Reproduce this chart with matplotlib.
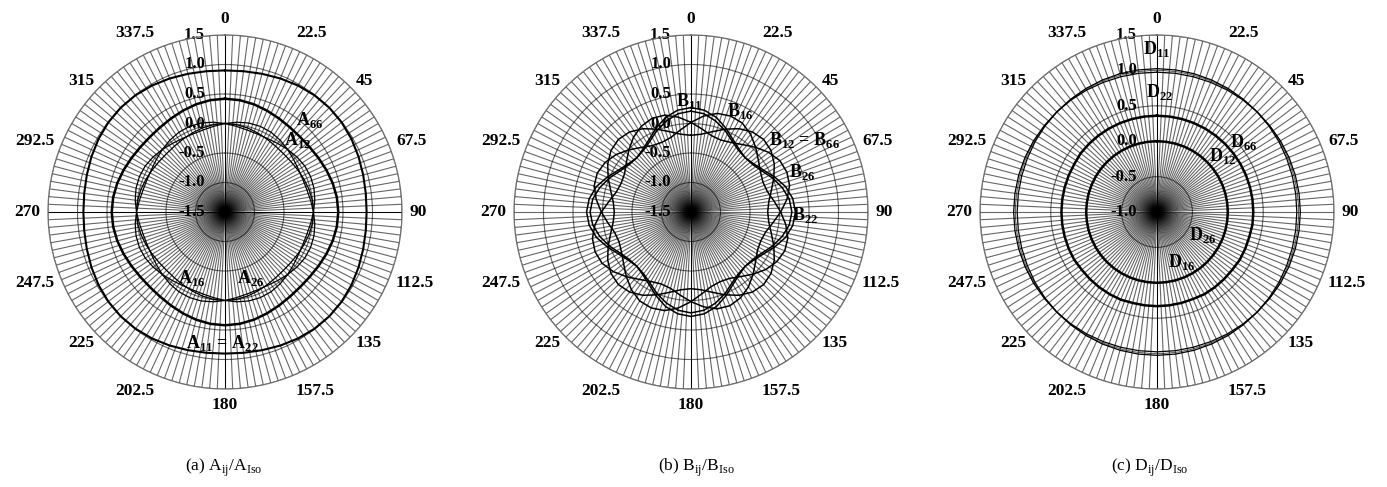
import matplotlib.pyplot as plt
import numpy as np

plt.rcParams['font.family'] = 'Liberation Serif'
plt.rcParams['mathtext.fontset'] = 'custom'
plt.rcParams['mathtext.rm'] = 'Liberation Serif'
plt.rcParams['mathtext.bf'] = 'Liberation Serif:bold'

# angle labels round each panel
label_angles = np.arange(0, 360, 22.5)
angle_labels = ['0', '22.5', '45', '67.5', '90', '112.5', '135', '157.5',
                '180', '202.5', '225', '247.5', '270', '292.5', '315', '337.5']

# all curves read every 7.5 deg
theta = np.arange(0, 360, 7.5)

# (a) A_ij / A_iso
A11_A22 = [0.900, 0.907, 0.925, 0.950, 0.975, 0.993, 1.000, 0.993, 0.975, 0.950, 0.925, 0.907,
           0.900, 0.907, 0.925, 0.950, 0.975, 0.993, 1.000, 0.993, 0.975, 0.950, 0.925, 0.907,
           0.900, 0.907, 0.925, 0.950, 0.975, 0.993, 1.000, 0.993, 0.975, 0.950, 0.925, 0.907,
           0.900, 0.907, 0.925, 0.950, 0.975, 0.993, 1.000, 0.993, 0.975, 0.950, 0.925, 0.907]
A66 = [0.420, 0.412, 0.390, 0.360, 0.330, 0.308, 0.300, 0.308, 0.330, 0.360, 0.390, 0.412,
       0.420, 0.412, 0.390, 0.360, 0.330, 0.308, 0.300, 0.308, 0.330, 0.360, 0.390, 0.412,
       0.420, 0.412, 0.390, 0.360, 0.330, 0.308, 0.300, 0.308, 0.330, 0.360, 0.390, 0.412,
       0.420, 0.412, 0.390, 0.360, 0.330, 0.308, 0.300, 0.308, 0.330, 0.360, 0.390, 0.412]
A12 = [0.000, -0.007, -0.025, -0.050, -0.075, -0.093, -0.100, -0.093, -0.075, -0.050, -0.025, -0.007,
       0.000, -0.007, -0.025, -0.050, -0.075, -0.093, -0.100, -0.093, -0.075, -0.050, -0.025, -0.007,
       0.000, -0.007, -0.025, -0.050, -0.075, -0.093, -0.100, -0.093, -0.075, -0.050, -0.025, -0.007,
       0.000, -0.007, -0.025, -0.050, -0.075, -0.093, -0.100, -0.093, -0.075, -0.050, -0.025, -0.007]
A16 = [0.000, 0.035, 0.061, 0.070, 0.061, 0.035, 0.000, -0.035, -0.061, -0.070, -0.061, -0.035,
       0.000, 0.035, 0.061, 0.070, 0.061, 0.035, 0.000, -0.035, -0.061, -0.070, -0.061, -0.035,
       0.000, 0.035, 0.061, 0.070, 0.061, 0.035, 0.000, -0.035, -0.061, -0.070, -0.061, -0.035,
       0.000, 0.035, 0.061, 0.070, 0.061, 0.035, 0.000, -0.035, -0.061, -0.070, -0.061, -0.035]
A26 = [0.000, -0.035, -0.061, -0.070, -0.061, -0.035, 0.000, 0.035, 0.061, 0.070, 0.061, 0.035,
       0.000, -0.035, -0.061, -0.070, -0.061, -0.035, 0.000, 0.035, 0.061, 0.070, 0.061, 0.035,
       0.000, -0.035, -0.061, -0.070, -0.061, -0.035, 0.000, 0.035, 0.061, 0.070, 0.061, 0.035,
       0.000, -0.035, -0.061, -0.070, -0.061, -0.035, 0.000, 0.035, 0.061, 0.070, 0.061, 0.035]

# (b) B_ij / B_iso
B11 = [0.27, 0.24, 0.16, 0.04, -0.08, -0.16, -0.20, -0.18, -0.11, 0.00, 0.10, 0.18,
       0.21, 0.18, 0.10, 0.00, -0.11, -0.18, -0.20, -0.16, -0.08, 0.04, 0.16, 0.24,
       0.27, 0.24, 0.16, 0.04, -0.08, -0.16, -0.20, -0.18, -0.11, 0.00, 0.10, 0.18,
       0.21, 0.18, 0.10, 0.00, -0.11, -0.18, -0.20, -0.16, -0.08, 0.04, 0.16, 0.24]
B22 = [0.21, 0.18, 0.10, 0.00, -0.11, -0.18, -0.20, -0.16, -0.08, 0.04, 0.16, 0.24,
       0.27, 0.24, 0.16, 0.04, -0.08, -0.16, -0.20, -0.18, -0.11, 0.00, 0.10, 0.18,
       0.21, 0.18, 0.10, 0.00, -0.11, -0.18, -0.20, -0.16, -0.08, 0.04, 0.16, 0.24,
       0.27, 0.24, 0.16, 0.04, -0.08, -0.16, -0.20, -0.18, -0.11, 0.00, 0.10, 0.18]
B12_B66 = [-0.20, -0.17, -0.09, 0.02, 0.13, 0.21, 0.24, 0.21, 0.13, 0.02, -0.09, -0.17,
           -0.20, -0.17, -0.09, 0.02, 0.13, 0.21, 0.24, 0.21, 0.13, 0.02, -0.09, -0.17,
           -0.20, -0.17, -0.09, 0.02, 0.13, 0.21, 0.24, 0.21, 0.13, 0.02, -0.09, -0.17,
           -0.20, -0.17, -0.09, 0.02, 0.13, 0.21, 0.24, 0.21, 0.13, 0.02, -0.09, -0.17]
B16 = [0.02, 0.14, 0.23, 0.26, 0.24, 0.16, 0.05, -0.06, -0.14, -0.18, -0.16, -0.08,
       0.02, 0.12, 0.20, 0.22, 0.18, 0.10, -0.01, -0.12, -0.20, -0.22, -0.19, -0.10,
       0.02, 0.14, 0.23, 0.26, 0.24, 0.16, 0.05, -0.06, -0.14, -0.18, -0.16, -0.08,
       0.02, 0.12, 0.20, 0.22, 0.18, 0.10, -0.01, -0.12, -0.20, -0.22, -0.19, -0.10]
B26 = [0.02, -0.08, -0.16, -0.18, -0.14, -0.06, 0.05, 0.16, 0.24, 0.26, 0.23, 0.14,
       0.02, -0.10, -0.19, -0.22, -0.20, -0.12, -0.01, 0.10, 0.18, 0.22, 0.20, 0.12,
       0.02, -0.08, -0.16, -0.18, -0.14, -0.06, 0.05, 0.16, 0.24, 0.26, 0.23, 0.14,
       0.02, -0.10, -0.19, -0.22, -0.20, -0.12, -0.01, 0.10, 0.18, 0.22, 0.20, 0.12]

# (c) D_ij / D_iso
D11 = [1.025, 1.024, 1.022, 1.018, 1.013, 1.006, 1.000, 0.994, 0.988, 0.982, 0.978, 0.976,
       0.975, 0.976, 0.978, 0.982, 0.988, 0.994, 1.000, 1.006, 1.013, 1.018, 1.022, 1.024,
       1.025, 1.024, 1.022, 1.018, 1.013, 1.006, 1.000, 0.994, 0.988, 0.982, 0.978, 0.976,
       0.975, 0.976, 0.978, 0.982, 0.988, 0.994, 1.000, 1.006, 1.013, 1.018, 1.022, 1.024]
D22 = [0.975, 0.976, 0.978, 0.982, 0.988, 0.994, 1.000, 1.006, 1.013, 1.018, 1.022, 1.024,
       1.025, 1.024, 1.022, 1.018, 1.013, 1.006, 1.000, 0.994, 0.988, 0.982, 0.978, 0.976,
       0.975, 0.976, 0.978, 0.982, 0.988, 0.994, 1.000, 1.006, 1.013, 1.018, 1.022, 1.024,
       1.025, 1.024, 1.022, 1.018, 1.013, 1.006, 1.000, 0.994, 0.988, 0.982, 0.978, 0.976]
D66 = [0.36, 0.36, 0.36, 0.36, 0.36, 0.36, 0.36, 0.36, 0.36, 0.36, 0.36, 0.36,
       0.36, 0.36, 0.35, 0.35, 0.35, 0.34, 0.34, 0.34, 0.34, 0.33, 0.33, 0.33,
       0.33, 0.33, 0.33, 0.34, 0.34, 0.34, 0.34, 0.34, 0.35, 0.35, 0.35, 0.35,
       0.35, 0.35, 0.35, 0.35, 0.35, 0.36, 0.36, 0.36, 0.36, 0.36, 0.36, 0.36]
D12 = [0.00, 0.00, 0.00, 0.00, 0.00, 0.00, 0.00, 0.00, 0.00, 0.00, 0.00, 0.00,
       0.00, 0.00, 0.00, 0.00, 0.00, 0.00, 0.00, 0.00, 0.00, 0.00, 0.00, 0.00,
       0.00, 0.00, 0.00, 0.00, 0.00, 0.00, 0.00, 0.00, 0.00, 0.00, 0.00, 0.00,
       0.00, 0.00, 0.00, 0.00, 0.00, 0.00, 0.00, 0.00, 0.00, 0.00, 0.00, 0.00]
D16 = [-1.00, -1.00, -1.00, -1.00, -1.00, -1.00, -1.00, -1.00, -1.00, -1.00, -1.00, -1.00,
       -1.00, -1.00, -1.00, -1.00, -1.00, -1.00, -1.00, -1.00, -1.00, -1.00, -1.00, -1.00,
       -1.00, -1.00, -1.00, -1.00, -1.00, -1.00, -1.00, -1.00, -1.00, -1.00, -1.00, -1.00,
       -1.00, -1.00, -1.00, -1.00, -1.00, -1.00, -1.00, -1.00, -1.00, -1.00, -1.00, -1.00]
D26 = D16

fig = plt.figure(figsize=(13.87, 4.87), dpi=100)


def make_polar(cx, rmin, rings):
    ax = fig.add_axes([(cx - 177) / 1387, 98 / 487, 354 / 1387, 354 / 487],
                      projection='polar')
    ax.set_theta_zero_location('N')
    ax.set_theta_direction(-1)
    ax.set_ylim(rmin, 1.5)
    ax.set_xticks(np.deg2rad(np.arange(0, 360, 2.5)))
    ax.set_xticklabels([])
    ax.set_yticks(rings)
    ax.set_yticklabels([])
    ax.tick_params(length=0)
    ax.grid(True, color='k', alpha=0.6, lw=0.8)
    ax.spines['polar'].set_color('#707070')
    ax.spines['polar'].set_linewidth(0.9)
    ax.plot([0, 0], [rmin, 1.5], color='k', lw=0.7, zorder=2)
    ax.plot([np.pi, np.pi], [rmin, 1.5], color='k', lw=0.7, zorder=2)
    for ang, lab in zip(label_angles, angle_labels):
        t = np.deg2rad(ang)
        s, c = np.sin(t), np.cos(t)
        ha = 'left' if s > 0.1 else ('right' if s < -0.1 else 'center')
        va = 'bottom' if c > 0.9 else ('top' if c < -0.9 else 'center')
        ax.annotate(lab, xy=(t, 1.5), xytext=(8 * s, 8 * c),
                    textcoords='offset pixels', ha=ha, va=va,
                    fontsize=12.5, fontweight='bold', annotation_clip=False)
    for v in rings:
        ax.annotate(f'{v:.1f}', xy=(0, v), xytext=(-20, 0),
                    textcoords='offset pixels', ha='right', va='center',
                    fontsize=12, fontweight='bold', zorder=1,
                    annotation_clip=False)
    return ax


def curve(ax, vals, lw):
    t = np.deg2rad(np.append(theta, 360))
    r = np.append(vals, vals[0])
    ax.plot(t, r, color='k', lw=lw, zorder=4)


def name(ax, ang, r, txt):
    ax.text(np.deg2rad(ang), r, txt, ha='center', va='center',
            fontsize=13, fontweight='bold', zorder=5)


rings_ab = [-1.5, -1.0, -0.5, 0.0, 0.5, 1.0, 1.5]
rings_c = [-1.0, -0.5, 0.0, 0.5, 1.0, 1.5]

# (a)
ax1 = make_polar(225, -1.5, rings_ab)
ax1.plot([np.pi / 2, np.pi / 2], [-1.5, 1.5], color='k', lw=0.7, zorder=2)
ax1.plot([3 * np.pi / 2, 3 * np.pi / 2], [-1.5, 1.5], color='k', lw=0.7, zorder=2)
curve(ax1, A11_A22, 1.5)
curve(ax1, A66, 1.8)
curve(ax1, A12, 0.9)
curve(ax1, A16, 0.9)
curve(ax1, A26, 0.9)
name(ax1, 42.7, 0.62, r'A$_\mathbf{66}$')
name(ax1, 45.4, 0.24, r'A$_\mathbf{12}$')
name(ax1, 206.6, -0.25, r'A$_\mathbf{16}$')
name(ax1, 158.5, -0.30, r'A$_\mathbf{26}$')
name(ax1, 181, 0.72, r'A$_\mathbf{11}$ = A$_\mathbf{22}$')

# (b)
ax2 = make_polar(691, -1.5, rings_ab)
for vals in [B11, B22, B12_B66, B16, B26]:
    curve(ax2, vals, 1.1)
name(ax2, 359, 0.38, r'B$_\mathbf{11}$')
name(ax2, 25.9, 0.40, r'B$_\mathbf{16}$')
name(ax2, 57.5, 0.77, r'B$_\mathbf{12}$ = B$_\mathbf{66}$')
name(ax2, 70, 0.50, r'B$_\mathbf{26}$')
name(ax2, 91.5, 0.43, r'B$_\mathbf{22}$')

# (c)
ax3 = make_polar(1157, -1.0, rings_c)
curve(ax3, D11, 0.9)
curve(ax3, D22, 0.9)
curve(ax3, D66, 1.8)
curve(ax3, D12, 1.8)
curve(ax3, D16, 0.9)
curve(ax3, D26, 0.9)
name(ax3, 0, 1.30, r'D$_\mathbf{11}$')
name(ax3, 1.4, 0.69, r'D$_\mathbf{22}$')
name(ax3, 50.9, 0.57, r'D$_\mathbf{66}$')
name(ax3, 49.7, 0.22, r'D$_\mathbf{12}$')
name(ax3, 116.6, -0.28, r'D$_\mathbf{26}$')
name(ax3, 154, -0.22, r'D$_\mathbf{16}$')

# captions
fig.text(224 / 1387, 1 - 468 / 487, r'(a) A$_\mathrm{ij}$/A$_\mathrm{Iso}$',
         ha='center', va='center', fontsize=12.5)
fig.text(696 / 1387, 1 - 468 / 487, r'(b) B$_\mathrm{ij}$/B$_\mathrm{Iso}$',
         ha='center', va='center', fontsize=12.5)
fig.text(1150 / 1387, 1 - 468 / 487, r'(c) D$_\mathrm{ij}$/D$_\mathrm{Iso}$',
         ha='center', va='center', fontsize=12.5)

fig.savefig('out.png', dpi=100)
